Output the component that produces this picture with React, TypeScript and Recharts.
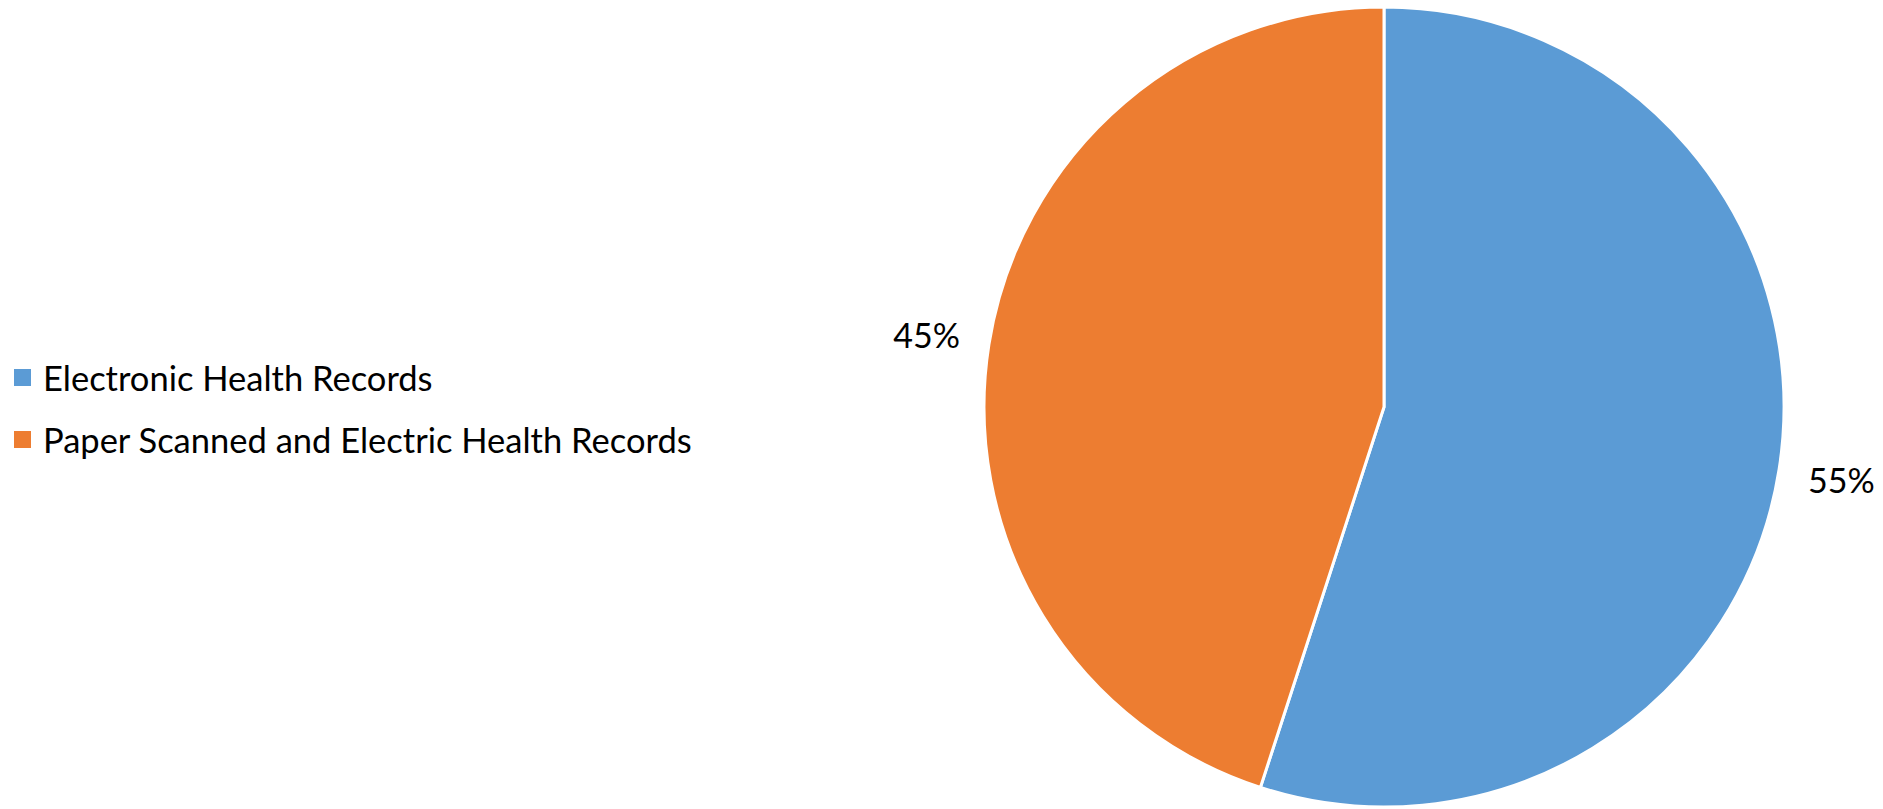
import { PieChart, Pie, Cell } from 'recharts'

const categories = ['Electronic Health Records', 'Paper Scanned and Electric Health Records']
const shares = [55, 45]
const colors = ['#5B9BD5', '#ED7D31']

const pieData = categories.map((name, i) => ({ name, value: shares[i], color: colors[i] }))

const RADIAN = Math.PI / 180
const FONT = 'Lato, "Open Sans", sans-serif'

const renderLabel = ({ cx, cy, midAngle, outerRadius, value }: any) => {
  const r = outerRadius + 63
  const x = cx + r * Math.cos(-midAngle * RADIAN)
  const y = cy + r * Math.sin(-midAngle * RADIAN)
  return (
    <text x={x} y={y} textAnchor="middle" dominantBaseline="central" fill="#000" fontSize={34} fontFamily={FONT}>
      {`${value}%`}
    </text>
  )
}

export default function App() {
  return (
    <div style={{ position: 'absolute', left: 0, top: 0, width: 1883, height: 809, background: '#fff' }}>
      <PieChart width={1883} height={809} margin={{ top: 0, right: 0, bottom: 0, left: 0 }}>
        <Pie
          data={pieData}
          dataKey="value"
          cx={1384}
          cy={407}
          outerRadius={400}
          startAngle={90}
          endAngle={-270}
          stroke="#fff"
          strokeWidth={3}
          label={renderLabel}
          labelLine={false}
          isAnimationActive={false}
        >
          {pieData.map((entry, index) => (
            <Cell key={`cell-${index}`} fill={entry.color} />
          ))}
        </Pie>
      </PieChart>
      {/* legend kept outside the chart so it doesn't shift the pie */}
      <div style={{ position: 'absolute', left: 0, top: 347, fontFamily: FONT, fontSize: 34.5, color: '#000' }}>
        {pieData.map((d) => (
          <div key={d.name} style={{ display: 'flex', alignItems: 'center', height: 61.5 }}>
            <span style={{ width: 17, height: 17, background: d.color, display: 'inline-block', marginLeft: 14, marginRight: 12 }} />
            <span>{d.name}</span>
          </div>
        ))}
      </div>
    </div>
  )
}
